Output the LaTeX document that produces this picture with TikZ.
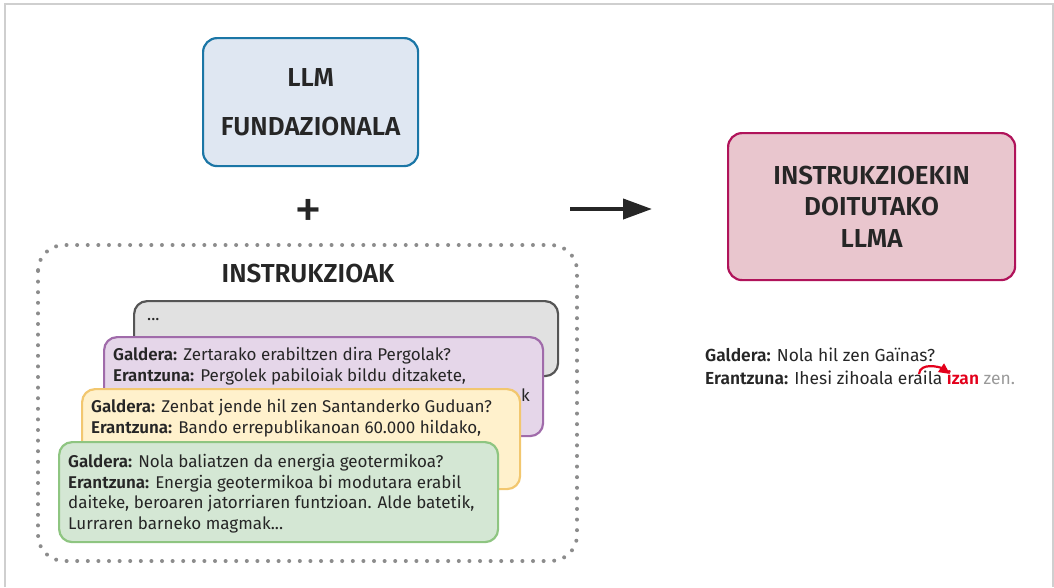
\documentclass[tikz,border=0pt]{standalone}
\usepackage{fontspec}
\setmainfont{Fira Sans}
\newfontfamily\semib{Fira Sans SemiBold}
\usepackage{xcolor}
\usetikzlibrary{arrows.meta}
\definecolor{ink}{HTML}{262626}
\definecolor{llmblue}{HTML}{1B76A6}
\definecolor{llmfill}{HTML}{DFE7F2}
\definecolor{tunedred}{HTML}{B0135A}
\definecolor{tunedfill}{HTML}{E9C6CE}
\definecolor{dotgray}{HTML}{8C8C8C}
\definecolor{framegray}{HTML}{CFCFCF}
\definecolor{cardgray}{HTML}{555555}
\definecolor{cardgrayfill}{HTML}{E1E1E1}
\definecolor{cardpurple}{HTML}{A06BAA}
\definecolor{cardpurplefill}{HTML}{E5D6E9}
\definecolor{cardyellow}{HTML}{F2C76F}
\definecolor{cardyellowfill}{HTML}{FFF1CC}
\definecolor{cardgreen}{HTML}{8EC581}
\definecolor{cardgreenfill}{HTML}{D4E7D4}
\definecolor{izanred}{HTML}{E3001B}
\definecolor{zengray}{HTML}{9A9A9A}
\newcommand{\lbl}[1]{{\semib #1}}
\tikzset{
	model/.style={draw,line width=2.2pt,rounded corners=14pt,anchor=north west,inner sep=0pt,align=center,text=ink,font=\semib\fontsize{26}{31.5}\selectfont},
	card/.style={draw,line width=2.2pt,rounded corners=13pt,anchor=north west,inner sep=0pt},
	qa/.style={anchor=north west,inner sep=0pt,align=left,text=ink,font=\fontsize{17}{20.7}\selectfont},
	head/.style={inner sep=0pt,text=ink,font=\semib\fontsize{26}{30}\selectfont}
}

\begin{document}
\begin{tikzpicture}[x=1pt,y=-1pt]
						\useasboundingbox (0,0) rectangle (1054,587);
						\draw[framegray,line width=2pt] (5,587)--(5,4)--(1053,4)--(1053,587);
						\node[model,fill=llmfill,draw=llmblue,minimum width=215pt,minimum height=128pt] (base) at (202,37) {LLM\\[17.5pt]FUNDAZIONALA};
						\node[head,font=\fontsize{56}{56}\selectfont] (plus) at (308,214) {+};
						\node[model,fill=tunedfill,draw=tunedred,minimum width=287pt,minimum height=147pt] (tuned) at (727,132) {INSTRUKZIOEKIN\\DOITUTAKO\\LLMA};
						\coordinate (arrowfrom) at (570,209);
						\coordinate (arrowto) at (652,209);
						\draw[ink,line width=4pt,-{Triangle[length=29pt,width=20pt]}] (arrowfrom)--(arrowto);
						\draw[dotgray,line width=4pt,line cap=round,dash pattern=on 0pt off 10.6pt,rounded corners=26pt] (38,245) rectangle (577,561);
						\node[head] (instr) at (308,273) {INSTRUKZIOAK};
						\node[card,fill=cardgrayfill,draw=cardgray,minimum width=424pt,minimum height=75pt] (grayc) at (133,300) {};
						\node[qa] (graytxt) at (147,318) {...};
						\node[card,fill=cardpurplefill,draw=cardpurple,minimum width=439pt,minimum height=99pt] (purplec) at (103,336) {};
						\node[qa] (purpletxt) at (113,347) {\lbl{Galdera:} Zertarako erabiltzen dira Pergolak?\\\lbl{Erantzuna:} Pergolek pabiloiak bildu ditzakete,};
						\node[qa] (purpletail) at (521,389) {k};
						\node[card,fill=cardyellowfill,draw=cardyellow,minimum width=438pt,minimum height=100pt] (yellowc) at (81,388) {};
						\node[qa] (yellowtxt) at (91,399) {\lbl{Galdera:} Zenbat jende hil zen Santanderko Guduan?\\\lbl{Erantzuna:} Bando errepublikanoan 60.000 hildako,};
						\node[card,fill=cardgreenfill,draw=cardgreen,minimum width=439pt,minimum height=100pt] (greenc) at (58,441) {};
						\node[qa] (greentxt) at (68,454) {\lbl{Galdera:} Nola baliatzen da energia geotermikoa?\\\lbl{Erantzuna:} Energia geotermikoa bi modutara erabil\\daiteke, beroaren jatorriaren funtzioan. Alde batetik,\\Lurraren barneko magmak...};
						\node[qa,font=\fontsize{17.4}{23}\selectfont] (example) at (705,347.7) {\lbl{Galdera:} Nola hil zen Gaïnas?\\\lbl{Erantzuna:} Ihesi zihoala eraila \textcolor{izanred}{\lbl{izan}} \textcolor{zengray}{zen.}};
						\coordinate (movefrom) at (919,374);
						\coordinate (moveto) at (950,374);
						\draw[izanred,line width=2.2pt,-{Triangle[length=11pt,width=10pt]}] (movefrom) to[out=85,in=145] (moveto);
					\end{tikzpicture}
\end{document}
